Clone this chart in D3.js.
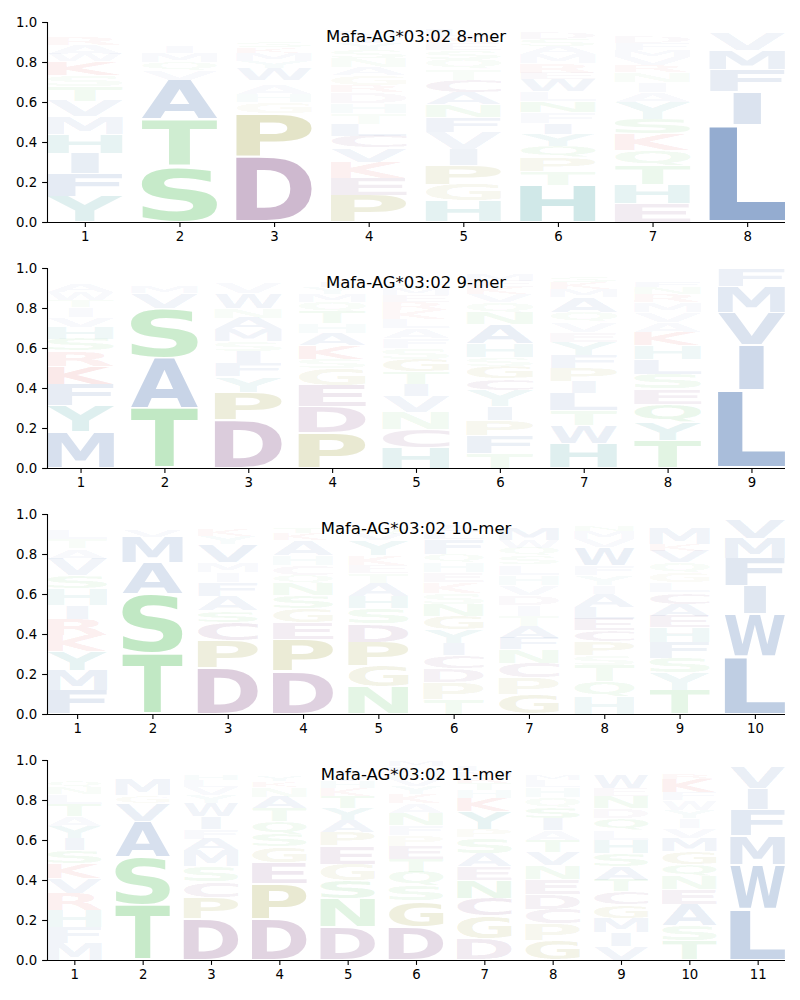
<!DOCTYPE html>
<html><head><meta charset="utf-8">
<script src="https://cdn.jsdelivr.net/npm/d3@7"></script>
<style>body{margin:0;background:#fff} svg{display:block}</style>
</head><body><svg id="chart" width="800" height="1000"></svg>
<script>
const titles = ["Mafa-AG*03:02 8-mer", "Mafa-AG*03:02 9-mer", "Mafa-AG*03:02 10-mer", "Mafa-AG*03:02 11-mer"];
const yTicks = [0, 0.2, 0.4, 0.6, 0.8, 1.0];

// letters of each position, bottom to top, with their heights
const letters8 = ["YFIHMVTSKWARENQCG", "STAVQMIKLENGR", "DPGHANWYMKSTERQL", "PEKVCLTHDRGANSYIMWQ",
  "HGPIVFNACTQSEKLMR", "HTPQYIFNLWERMASDCGK", "EHTQKSYAINRVMFDGLCW", "LIFMVYWAT"];
const heights8 = [
  [.127,.117,.1,.095,.088,.078,.075,.055,.067,.037,.047,.042,.02,.02,.015,.01,.01],
  [.28,.235,.195,.05,.04,.045,.03,.025,.02,.02,.02,.02,.02],
  [.33,.215,.055,.04,.045,.025,.06,.035,.04,.03,.03,.02,.02,.02,.02,.015],
  [.135,.085,.08,.07,.06,.06,.055,.05,.055,.035,.05,.04,.045,.04,.035,.035,.03,.02,.02],
  [.105,.085,.095,.08,.085,.075,.062,.06,.062,.055,.05,.045,.035,.035,.03,.025,.016],
  [.185,.07,.067,.058,.058,.057,.053,.057,.05,.058,.03,.05,.045,.04,.035,.03,.025,.025,.007],
  [.092,.097,.093,.075,.083,.075,.085,.05,.05,.05,.035,.04,.035,.035,.03,.025,.02,.015,.015],
  [.488,.166,.108,.096,.087,.025,.015,.01,.005]
];

const letters9 = ["MYFKRSHVITWANEQLC", "TASVMYILKQ", "DPYFISMANWVKTEL", "PDEGSKAHTQMYIVNL",
  "HCNVITGSFALKREMYQDW", "TFPIYCGSHANQVKEMLR", "HWTLIPFYEVQAMKSNR", "TYQESLHKAVMRNFIGC", "LIVMFYW"];
const heights9 = [
  [.18,.13,.11,.09,.075,.06,.06,.05,.05,.035,.04,.04,.025,.02,.015,.01,.01],
  [.3,.25,.25,.075,.035,.025,.02,.02,.015,.01],
  [.24,.14,.077,.065,.06,.05,.06,.058,.05,.075,.055,.02,.02,.015,.015],
  [.175,.13,.108,.085,.047,.067,.06,.05,.058,.05,.04,.035,.03,.025,.02,.02],
  [.1,.095,.085,.08,.06,.06,.065,.055,.05,.05,.045,.045,.04,.035,.03,.03,.025,.025,.025],
  [.075,.09,.075,.07,.08,.057,.06,.045,.07,.095,.06,.05,.04,.035,.033,.03,.02,.015],
  [.125,.09,.075,.085,.06,.065,.065,.065,.05,.05,.05,.075,.04,.035,.03,.02,.02],
  [.14,.09,.09,.075,.075,.075,.067,.067,.05,.05,.05,.04,.035,.03,.025,.02,.02],
  [.39,.225,.163,.13,.085,.005,.002]
];

const letters10 = ["FMYKRIHSVATLENQGW", "TSAMVILYKQ", "DPCSAFIMVYKTNHE", "DPEGSNQCHAKTYLM", "NGPDSHATEKYVQILR",
  "TPDCIYGNSKEHQFLAVMR", "GPCNFATIDVHLSQWMKYER", "HQTSPCELAIYFWVMNKRG", "TYSFHEACLGQVKMNRID", "LWIFMVYA"];
const heights10 = [
  [.12,.1,.095,.08,.08,.07,.08,.066,.085,.05,.05,.045,.025,.02,.015,.01,.009],
  [.3,.3,.155,.13,.03,.025,.02,.015,.015,.01],
  [.23,.135,.094,.058,.072,.068,.05,.05,.09,.04,.035,.025,.02,.018,.015],
  [.215,.16,.083,.07,.065,.062,.04,.05,.05,.075,.035,.03,.025,.02,.02],
  [.135,.105,.12,.09,.078,.06,.067,.05,.04,.05,.075,.03,.03,.025,.025,.02],
  [.075,.085,.068,.065,.06,.068,.068,.058,.055,.055,.05,.05,.04,.075,.035,.03,.025,.02,.018],
  [.1,.08,.075,.067,.058,.058,.053,.055,.05,.05,.05,.05,.045,.04,.04,.06,.02,.02,.015,.015],
  [.085,.075,.083,.05,.067,.058,.058,.058,.067,.042,.05,.05,.09,.04,.04,.03,.025,.025,.007],
  [.12,.085,.075,.078,.075,.058,.058,.058,.05,.05,.05,.058,.035,.08,.025,.02,.015,.01],
  [.29,.21,.14,.14,.1,.095,.015,.01]
];

const letters11 = ["MFHRVKSIYATLNQCEWGD", "TSAVGMYLIKQ", "DPCSMAFIWYVLHTNK", "DPEGSQTANKYMVLH", "DNSGEPAYTKHVILM",
  "DGSQTEPFNAKYVHLM", "DGCNEASPYKHTRMLV", "GPCDENVTAISQHLMFKY", "VIMGCTASHLQDNEWKFYR", "TSAENQGMVIYWFKRHLC", "LWMFIVYKR"];
const heights11 = [
  [.085,.078,.085,.085,.075,.075,.067,.06,.06,.05,.06,.05,.035,.03,.025,.025,.022,.018,.015],
  [.275,.24,.18,.09,.037,.083,.025,.02,.02,.015,.015],
  [.205,.105,.08,.078,.08,.058,.05,.06,.066,.04,.04,.035,.03,.025,.025,.023],
  [.205,.175,.105,.08,.065,.063,.065,.058,.05,.03,.03,.025,.02,.022,.007],
  [.165,.14,.09,.085,.091,.067,.06,.06,.06,.04,.035,.03,.03,.025,.022],
  [.165,.13,.075,.07,.065,.065,.055,.05,.06,.05,.045,.04,.035,.035,.03,.03],
  [.105,.115,.09,.09,.066,.066,.08,.042,.09,.067,.04,.035,.03,.03,.03,.025],
  [.1,.08,.075,.075,.075,.066,.066,.06,.05,.058,.058,.05,.05,.035,.03,.025,.025,.022],
  [.07,.067,.072,.066,.067,.058,.067,.067,.067,.05,.058,.05,.058,.042,.07,.02,.02,.015,.016],
  [.095,.075,.106,.075,.066,.058,.066,.067,.05,.05,.04,.05,.04,.067,.03,.025,.02,.02],
  [.255,.22,.145,.13,.105,.11,.02,.01,.005]
];

const groupLetters = ["AVLIMFW", "STNQ", "DEC", "PG", "HY", "KR"];
const groupColors = ["#22559f", "#32b43c", "#6a2a6e", "#808000", "#008080", "#d01e1e"];

const panelLetters = [letters8, letters9, letters10, letters11];
const panelHeights = [heights8, heights9, heights10, heights11];

// layout
const axLeft = 47, axRight = 785, axH = 200;
const axTops = [22, 268, 514, 760];
const glyphWidth = 0.8, vpad = 0.05;
const FONT = "DejaVu Sans", FS = 200;

const colorOf = c => groupColors[groupLetters.findIndex(g => g.includes(c))];

// ink metrics of glyphs
const ctx = document.createElement("canvas").getContext("2d");
ctx.font = `bold ${FS}px "${FONT}"`;
const metricCache = {};
function ink(c) {
  if (!metricCache[c]) {
    const m = ctx.measureText(c);
    metricCache[c] = {l: m.actualBoundingBoxLeft, r: m.actualBoundingBoxRight,
      a: m.actualBoundingBoxAscent, d: m.actualBoundingBoxDescent};
  }
  return metricCache[c];
}
const inkE = ink("E");

const svg = d3.select("#chart");

panelLetters.forEach((letters, p) => {
  const heights = panelHeights[p];
  const n = letters.length;
  const top = axTops[p], bottom = top + axH;
  const x = d3.scaleLinear().domain([0.6, n + 0.4]).range([axLeft, axRight]);
  const y = d3.scaleLinear().domain([0, 1]).range([bottom, top]);
  const g = svg.append("g");

  // glyphs
  const gl = g.append("g");
  letters.forEach((str, i) => {
    const pos = i + 1;
    let base = 0;
    str.split("").forEach((c, k) => {
      const h = heights[i][k];
      const y0 = base + h * vpad / 2, y1 = base + h - h * vpad / 2;
      base += h;
      const m = ink(c);
      const inkW = m.l + m.r, inkH = m.a + m.d;
      const boxW = x(pos + glyphWidth / 2) - x(pos - glyphWidth / 2);
      const boxH = y(y0) - y(y1);
      const sx = Math.min(boxW / inkW, boxW / (inkE.l + inkE.r));
      const sy = boxH / inkH;
      const left = x(pos) - inkW * sx / 2;
      gl.append("text")
        .attr("transform", `translate(${left},${y(y1)}) scale(${sx},${sy}) translate(${m.l},${m.a})`)
        .attr("font-family", FONT).attr("font-weight", "bold").attr("font-size", FS)
        .attr("fill", colorOf(c)).attr("fill-opacity", Math.min(1, h))
        .text(c);
    });
  });

  // axes
  const yAxis = d3.axisLeft(y).tickValues(yTicks).tickFormat(d3.format(".1f")).tickSize(4.9).tickPadding(4.9);
  const xAxis = d3.axisBottom(x).tickValues(d3.range(1, n + 1)).tickFormat(d3.format("d")).tickSize(4.9).tickPadding(4.9);
  const ya = g.append("g").attr("transform", `translate(${axLeft},0)`).call(yAxis);
  const xa = g.append("g").attr("transform", `translate(0,${bottom})`).call(xAxis);
  [ya, xa].forEach(a => {
    a.select(".domain").attr("stroke", "#000").attr("stroke-width", 1.1);
    a.selectAll(".tick line").attr("stroke", "#000").attr("stroke-width", 1.1);
    a.selectAll("text").attr("font-family", "DejaVu Sans").attr("font-size", 13.3).attr("fill", "#000");
  });
  ya.select(".domain").attr("d", `M0.5,${bottom}V${top}`);
  xa.select(".domain").attr("d", `M${axLeft},0.5H${axRight}`);

  g.append("text").attr("x", (axLeft + axRight) / 2).attr("y", top + 20)
    .attr("text-anchor", "middle").attr("font-family", "DejaVu Sans").attr("font-size", 16.5)
    .attr("fill", "#000").text(titles[p]);
});
</script></body></html>
